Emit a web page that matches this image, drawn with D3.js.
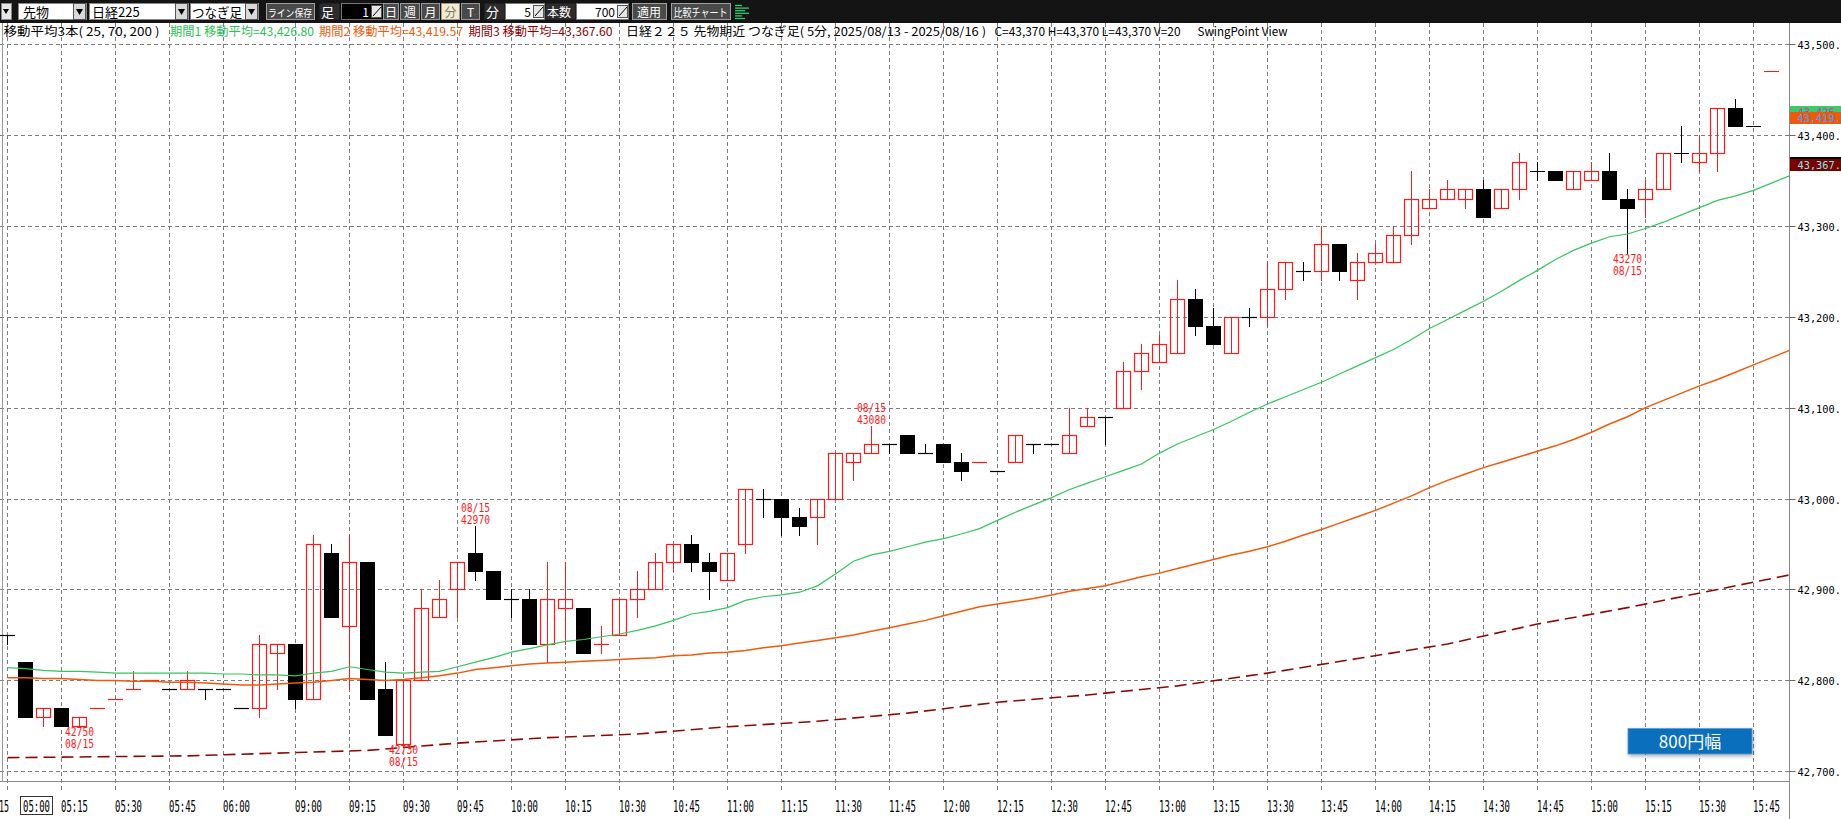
<!DOCTYPE html>
<html><head><meta charset="utf-8">
<script src="https://cdn.jsdelivr.net/npm/d3@7"></script>
<style>
html,body{margin:0;padding:0;background:#fff;overflow:hidden;}
svg{display:block;}
</style></head><body>
<svg id="c" width="1841" height="819"></svg>
<script>
// ---------------- DATA ----------------
const categories = [
"05:00","05:05","05:10","05:15","05:20","05:25","05:30","05:35","05:40","05:45","05:50","05:55","06:00",
"08:45","08:50","08:55",
"09:00","09:05","09:10","09:15","09:20","09:25","09:30","09:35","09:40","09:45","09:50","09:55",
"10:00","10:05","10:10","10:15","10:20","10:25","10:30","10:35","10:40","10:45","10:50","10:55",
"11:00","11:05","11:10","11:15","11:20","11:25","11:30","11:35","11:40","11:45","11:50","11:55",
"12:00","12:05","12:10","12:15","12:20","12:25","12:30","12:35","12:40","12:45","12:50","12:55",
"13:00","13:05","13:10","13:15","13:20","13:25","13:30","13:35","13:40","13:45","13:50","13:55",
"14:00","14:05","14:10","14:15","14:20","14:25","14:30","14:35","14:40","14:45","14:50","14:55",
"15:00","15:05","15:10","15:15","15:20","15:25","15:30","15:35","15:40","15:45","15:50","15:55"];

const openP = [42850,42820,42760,42770,42750,42770,42780,42790,42800,42790,
42790,42790,42790,42770,42770,42830,42840,42780,42940,42860,
42930,42790,42730,42800,42870,42900,42940,42920,42890,42890,
42840,42880,42880,42840,42850,42890,42900,42930,42950,42930,
42910,42950,43000,43000,42980,42980,43000,43040,43050,43060,
43070,43050,43060,43040,43040,43030,43040,43060,43060,43050,
43080,43090,43100,43140,43150,43160,43220,43190,43160,43200,
43200,43230,43250,43250,43280,43240,43260,43260,43290,43320,
43330,43330,43340,43320,43340,43360,43360,43340,43350,43360,
43330,43330,43340,43380,43370,43380,43430,43410,43470];
const highP = [42850,42820,42770,42770,42760,42770,42780,42810,42800,42790,
42810,42790,42790,42770,42850,42840,42840,42960,42950,42960,
42930,42820,42800,42900,42910,42930,42970,42920,42900,42900,
42930,42930,42880,42860,42890,42920,42940,42950,42960,42940,
42940,43010,43010,43000,42990,43000,43050,43050,43080,43060,
43070,43060,43060,43050,43040,43030,43070,43060,43060,43100,
43100,43090,43150,43170,43180,43240,43230,43210,43200,43210,
43260,43260,43260,43300,43280,43270,43280,43300,43360,43340,
43350,43340,43350,43340,43380,43370,43360,43360,43370,43380,
43340,43350,43380,43410,43400,43430,43440,43410,43470];
const lowP = [42840,42760,42750,42750,42750,42770,42780,42790,42800,42790,
42790,42780,42790,42770,42760,42790,42770,42780,42870,42790,
42780,42740,42730,42800,42870,42870,42910,42890,42870,42840,
42820,42840,42830,42830,42850,42870,42900,42920,42920,42890,
42910,42940,42980,42960,42960,42950,43000,43020,43050,43050,
43050,43050,43040,43020,43040,43030,43040,43050,43060,43050,
43080,43060,43100,43120,43150,43160,43180,43170,43160,43190,
43190,43220,43240,43240,43240,43220,43260,43260,43280,43320,
43330,43320,43310,43320,43330,43350,43350,43340,43350,43330,
43270,43310,43340,43370,43360,43360,43410,43410,43470];
const closeP = [42850,42760,42770,42750,42760,42770,42780,42790,42800,42790,
42800,42790,42790,42770,42840,42840,42780,42950,42870,42930,
42780,42740,42800,42880,42890,42930,42920,42890,42890,42840,
42890,42890,42830,42840,42890,42900,42930,42950,42930,42920,
42940,43010,43000,42980,42970,43000,43050,43050,43060,43060,
43050,43050,43040,43030,43040,43030,43070,43060,43060,43070,
43090,43090,43140,43160,43170,43220,43190,43170,43200,43200,
43230,43260,43250,43280,43250,43260,43270,43290,43330,43330,
43340,43340,43310,43340,43370,43360,43350,43360,43360,43330,
43320,43340,43380,43380,43380,43430,43410,43410,43470];

// moving averages (one value per bar slot)
const ma25 = [42814,42813,42811,42810,42810,42809,42808,42808,42808,42808,
42808,42808,42807,42807,42806,42806,42805,42808,42810,42815,
42812,42809,42808,42809,42810,42815,42820,42825,42831,42835,
42839,42843,42845,42848,42851,42855,42860,42866,42873,42876,
42880,42888,42892,42894,42897,42904,42917,42931,42938,42942,
42947,42952,42956,42961,42967,42976,42985,42993,43001,43010,
43017,43024,43031,43038,43050,43060,43068,43076,43085,43095,
43104,43112,43120,43128,43137,43146,43155,43164,43175,43187,
43197,43207,43217,43228,43240,43251,43263,43273,43281,43288,
43291,43297,43304,43312,43320,43328,43333,43339,43347,43355];
const ma70 = [42803,42803,42802,42802,42801,42800,42800,42799,42799,42798,
42798,42797,42796,42795,42795,42796,42797,42798,42800,42802,
42801,42800,42801,42803,42805,42808,42812,42814,42816,42818,
42819,42820,42821,42822,42823,42824,42825,42827,42828,42830,
42831,42833,42836,42838,42841,42844,42847,42850,42854,42858,
42862,42866,42871,42876,42881,42884,42887,42890,42894,42898,
42901,42904,42909,42914,42918,42923,42928,42933,42938,42942,
42947,42953,42960,42966,42973,42980,42987,42995,43003,43012,
43020,43027,43034,43040,43046,43052,43058,43065,43073,43082,
43090,43100,43108,43116,43124,43131,43139,43147,43155,43163];
const ma200Idx = [0,5,10,15,20,25,30,35,40,45,50,55,60,65,70,75,80,85,90,95,99];
const ma200Val = [42715,42716,42717,42720,42723,42731,42737,42741,42749,42755,42764,42776,42784,42794,42808,42824,42840,42862,42880,42900,42916];

const yTicks = [42700,42800,42900,43000,43100,43200,43300,43400,43500];
const tickLabels = ["05:15","05:30","05:45","06:00","09:00","09:15","09:30","09:45","10:00","10:15","10:30","10:45",
"11:00","11:15","11:30","11:45","12:00","12:15","12:30","12:45","13:00","13:15","13:30","13:45",
"14:00","14:15","14:30","14:45","15:00","15:15","15:30","15:45"];
const gridTimes = ["05:00"].concat(tickLabels);

const markIdx = [4,22,26,48,90];
const markVal = [42750,42730,42970,43080,43270];
const markType = ["low","low","high","high","low"];
const markDate = ["08/15","08/15","08/15","08/15","08/15"];

const tagVals = [43426.8,43419.57,43370,43367.6];
const tagFill = ["#3dc96a","#ee5a0c","#000000","#7a0000"];
const tagText = ["#c23fa8","#3aa0ff","#dddddd","#6ff0f0"];

// ---------------- SETUP ----------------
const svg = d3.select('#c');
const plotTop = 23, axisY = 781.5, axisX = 1789.5;
const x = d3.scaleBand().domain(categories).range([-1.5, 1798.5]).padding(0);
const cx = i => x(categories[i]) + x.bandwidth()/2;
const y = d3.scaleLinear().domain([42700, 43500]).range([771.3, 44]);
const ry = v => Math.round(y(v));
const mono = "'DejaVu Sans Mono','Liberation Mono',monospace";
const jp = "'Noto Sans CJK JP','Noto Sans',sans-serif";

svg.append('rect').attr('width',1841).attr('height',819).attr('fill','#fff');

const defs = svg.append('defs');
defs.append('clipPath').attr('id','plotclip').append('rect')
  .attr('x',0).attr('y',plotTop).attr('width',axisX).attr('height',axisY-plotTop);
const f = defs.append('filter').attr('id','shadow').attr('x','-20%').attr('y','-40%').attr('width','140%').attr('height','180%');
f.append('feGaussianBlur').attr('stdDeviation',2);

// ---------------- GRID ----------------
const grid = svg.append('g');
grid.selectAll('.hg').data(yTicks).enter().append('line')
  .attr('x1',0).attr('x2',axisX).attr('y1',d=>ry(d)+0.5).attr('y2',d=>ry(d)+0.5)
  .attr('stroke','#7d7d7d').attr('stroke-dasharray','4,3');
grid.selectAll('.vg').data(gridTimes).enter().append('line')
  .attr('x1',d=>Math.floor(x(d)+x.bandwidth()/2)+0.5).attr('x2',d=>Math.floor(x(d)+x.bandwidth()/2)+0.5)
  .attr('y1',plotTop).attr('y2',793)
  .attr('stroke','#7d7d7d').attr('stroke-dasharray','4,3');

// left border
svg.append('line').attr('x1',2.5).attr('x2',2.5).attr('y1',plotTop).attr('y2',axisY).attr('stroke','#9a9a9a');

// ---------------- CANDLES ----------------
const plot = svg.append('g').attr('clip-path','url(#plotclip)');
const candles = openP.map((o,i)=>({i, o, h:highP[i], l:lowP[i], c:closeP[i]}));
function isUp(d){
  if (d.c > d.o) return true;
  if (d.c < d.o) return false;
  return d.i > 0 && d.c > closeP[d.i-1];
}
const cg = plot.append('g');
candles.forEach(d=>{
  const up = isUp(d);
  const col = up ? '#ff1a1a' : '#000';
  const xc = Math.floor(cx(d.i)) + 0.5;
  if (d.h !== d.l) {
    cg.append('line').attr('x1',xc).attr('x2',xc)
      .attr('y1',ry(d.h)).attr('y2',ry(d.l)+1).attr('stroke',col).attr('stroke-width',1);
  }
  if (d.o === d.c) {
    cg.append('line').attr('x1',xc-7.5).attr('x2',xc+7.5)
      .attr('y1',ry(d.c)+0.5).attr('y2',ry(d.c)+0.5).attr('stroke',col).attr('stroke-width',1.2);
  } else {
    const top = ry(Math.max(d.o,d.c)), bot = ry(Math.min(d.o,d.c));
    if (up) {
      cg.append('rect').attr('x',xc-7).attr('y',top+0.5).attr('width',14).attr('height',bot-top)
        .attr('fill','none').attr('stroke',col).attr('stroke-width',1.2);
    } else {
      cg.append('rect').attr('x',xc-7.5).attr('y',top).attr('width',15).attr('height',bot-top+1)
        .attr('fill','#000');
    }
  }
});

// ---------------- MOVING AVERAGES ----------------
const line = d3.line().x(d=>d[0]).y(d=>d[1]);
plot.append('path').attr('d', line(ma25.map((v,i)=>[cx(i), y(v)])))
  .attr('fill','none').attr('stroke','#35c45e').attr('stroke-width',1.2);
plot.append('path').attr('d', line(ma70.map((v,i)=>[cx(i), y(v)])))
  .attr('fill','none').attr('stroke','#f05a0a').attr('stroke-width',1.5);
plot.append('path').attr('d', line(ma200Idx.map((k,j)=>[cx(k), y(ma200Val[j])])))
  .attr('fill','none').attr('stroke','#8a0a0a').attr('stroke-width',1.6).attr('stroke-dasharray','12,6');

// ---------------- HIGH/LOW MARKERS ----------------
markIdx.forEach((k,j)=>{
  const xc = cx(k), yy = y(markVal[j]);
  const lines = markType[j]==='low'
    ? [[String(markVal[j]), yy+10],[markDate[j], yy+22]]
    : [[markDate[j], yy-14],[String(markVal[j]), yy-2]];
  lines.forEach(([t,by])=>{
    plot.append('text').attr('x',xc-14.5).attr('y',by).text(t)
      .attr('font-family',mono).attr('font-size',13).attr('fill','#ff1a1a')
      .attr('textLength',29).attr('lengthAdjust','spacingAndGlyphs');
  });
});

// ---------------- AXES ----------------
svg.append('line').attr('x1',0).attr('x2',axisX).attr('y1',axisY).attr('y2',axisY).attr('stroke','#8a8a8a');
svg.append('line').attr('x1',axisX).attr('x2',axisX).attr('y1',plotTop).attr('y2',819).attr('stroke','#8a8a8a');

const fmt = d3.format(',.1f');
yTicks.forEach(v=>{
  const yy = ry(v)+0.5;
  svg.append('line').attr('x1',axisX).attr('x2',1795.5).attr('y1',yy).attr('y2',yy).attr('stroke','#666');
  const s = fmt(v);
  svg.append('text').attr('x',1797.5).attr('y',yy+4).text(s)
    .attr('font-family',mono).attr('font-size',11).attr('fill','#000')
    .attr('textLength',s.length*6.2).attr('lengthAdjust','spacingAndGlyphs');
});

tickLabels.forEach(t=>{
  const xx = Math.floor(x(t)+x.bandwidth()/2);
  svg.append('text').attr('x',xx).attr('y',812).text(t)
    .attr('font-family',mono).attr('font-size',15).attr('fill','#000')
    .attr('textLength',27).attr('lengthAdjust','spacingAndGlyphs');
});
// first (boxed) label and clipped neighbour
svg.append('text').attr('x',-1).attr('y',812).text('15')
  .attr('font-family',mono).attr('font-size',15).attr('fill','#000')
  .attr('textLength',10).attr('lengthAdjust','spacingAndGlyphs');
svg.append('rect').attr('x',20.5).attr('y',796.5).attr('width',32).attr('height',18)
  .attr('fill','#fff').attr('stroke','#333');
svg.append('text').attr('x',23).attr('y',812).text(categories[0])
  .attr('font-family',mono).attr('font-size',15).attr('fill','#000')
  .attr('textLength',27).attr('lengthAdjust','spacingAndGlyphs');

// right price tags
tagVals.forEach((v,j)=>{
  const yy = Math.round(y(v));
  svg.append('rect').attr('x',1790).attr('y',yy-5).attr('width',51).attr('height',12).attr('fill',tagFill[j]);
  const s = fmt(v);
  svg.append('text').attr('x',1797.5).attr('y',yy+5).text(s)
    .attr('font-family',mono).attr('font-size',11).attr('fill',tagText[j])
    .attr('textLength',s.length*6.2).attr('lengthAdjust','spacingAndGlyphs');
});

// ---------------- 800円幅 button ----------------
svg.append('rect').attr('x',1629).attr('y',730).attr('width',124).attr('height',26)
  .attr('fill','rgba(0,0,0,0.35)').attr('filter','url(#shadow)');
svg.append('rect').attr('x',1628).attr('y',728.5).attr('width',124).attr('height',25.5)
  .attr('fill','#0a6fbd').attr('stroke','#5c9fd6').attr('stroke-width',0.8);
svg.append('text').attr('x',1690).attr('y',747.5).attr('text-anchor','middle').text('800円幅')
  .attr('font-family',jp).attr('font-size',17).attr('fill','#fff');

// ---------------- HEADER TEXT ----------------
function hwLen(s){ let n=0; for (const ch of s){ n += (ch.charCodeAt(0) > 0xff) ? 2 : 1; } return n; }
const header = [
  ["移動平均3本( 25, 70, 200 )", 3.5, "#000"],
  ["期間1 移動平均=43,426.80", 170, "#2fbf55"],
  ["期間2 移動平均=43,419.57", 319, "#f05a0a"],
  ["期間3 移動平均=43,367.60", 468.5, "#8a0000"],
  ["日経２２５ 先物期近 つなぎ足( 5分, 2025/08/13 - 2025/08/16 )", 626, "#000"],
  ["C=43,370 H=43,370 L=43,370 V=20", 994.5, "#000"],
  ["SwingPoint View", 1197.5, "#000"]
];
header.forEach(([s,xx,col])=>{
  svg.append('text').attr('x',xx).attr('y',36).text(s)
    .attr('font-family',jp).attr('font-size',12).attr('fill',col)
    .attr('textLength',hwLen(s)*6).attr('lengthAdjust','spacingAndGlyphs');
});

// ---------------- TOOLBAR ----------------
const tb = svg.append('g');
tb.append('rect').attr('x',0).attr('y',0).attr('width',1841).attr('height',23).attr('fill','#141414');
function rect(x0,x1,fill,stroke){ tb.append('rect').attr('x',x0+0.5).attr('y',3.5).attr('width',x1-x0).attr('height',16).attr('fill',fill).attr('stroke',stroke||'none'); }
function t(s,xx,col,size,anchor,len){
  const e = tb.append('text').attr('x',xx).attr('y',16.5).text(s).attr('font-family',jp)
    .attr('font-size',size||13).attr('fill',col).attr('text-anchor',anchor||'start');
  if (len) e.attr('textLength',len).attr('lengthAdjust','spacingAndGlyphs');
}
function drop(x0){ rect(x0,x0+12,'#d9d9d9','#555'); tb.append('path').attr('d',`M${x0+3},${9}L${x0+10},${9}L${x0+6.5},${15}Z`).attr('fill','#000'); }
function spin(x0){ tb.append('rect').attr('x',x0+0.5).attr('y',5.5).attr('width',10).attr('height',12).attr('fill','#e6e6e6').attr('stroke','#555');
  tb.append('line').attr('x1',x0+2).attr('y1',16).attr('x2',x0+10).attr('y2',7).attr('stroke','#000'); }
// small dropdown
rect(1,11,'#e6e6e6','#888'); tb.append('path').attr('d','M3,9L9,9L6,14Z').attr('fill','#000');
rect(18,86,'#fff','#888'); t('先物',23,'#000',13); drop(73);
rect(89,188,'#fff','#888'); t('日経225',92,'#000',13); drop(175);
rect(190,258,'#fff','#888'); t('つなぎ足',192,'#000',13,'start',50); drop(245);
rect(266,314,'#4a4a4a','#a0a0a0'); t('ライン保存',290,'#fff',10,'middle',44);
rect(319,339,'#2c2c2c'); t('足',321,'#fff',13);
rect(341,383,'#000','#777'); t('1',369,'#fff',12,'end'); spin(371);
[['日',383,398],['週',400,419],['月',421,439],['T',461,479]].forEach(([s,a,b])=>{ rect(a,b,'#4a4a4a','#9a9a9a'); t(s,(a+b)/2+0.5,'#fff',12,'middle'); });
rect(441,459,'#f3ebc9','#9a9a9a'); t('分',450.5,'#777',12,'middle');
rect(484,504,'#2c2c2c'); t('分',486,'#fff',13);
rect(505,544,'#fff','#777'); t('5',531,'#000',12,'end'); spin(533);
rect(545,575,'#2c2c2c'); t('本数',547,'#fff',12);
rect(576,628,'#fff','#777'); t('700',615,'#000',12,'end'); spin(617);
rect(632,666,'#4a4a4a','#a0a0a0'); t('適用',649,'#fff',12,'middle');
rect(671,730,'#4a4a4a','#a0a0a0'); t('比較チャート',700.5,'#fff',11,'middle',54);
[[0,7],[1,14],[2,10],[3,14],[4,7],[5,10]].forEach(([k,len])=>{
  tb.append('line').attr('x1',735).attr('x2',735+len).attr('y1',5.5+k*2.6).attr('y2',5.5+k*2.6).attr('stroke','#2ecc71').attr('stroke-width',1.3);
});
</script>
</body></html>
